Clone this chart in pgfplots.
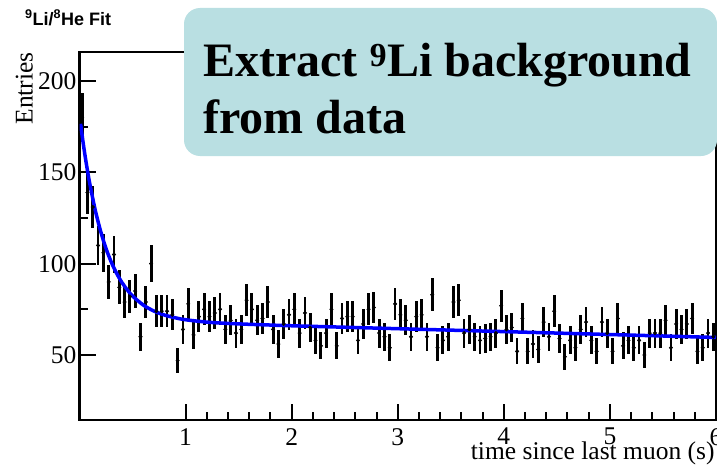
\documentclass[border=0pt]{standalone}
\usepackage{fontspec}
\setmainfont{Liberation Serif}
\newfontfamily\titlefont{Liberation Sans}
\usepackage{pgfplots}
\pgfplotsset{compat=1.18}
\usepackage{pgfplotstable}
\definecolor{boxteal}{RGB}{185,223,226}
\definecolor{rootblue}{RGB}{0,0,255}

\pgfplotstableread{
t n e
0.025 180 13.4
0.075 139 11.8
0.125 131 11.4
0.175 110 10.5
0.225 106 10.3
0.275 90 9.5
0.325 105 10.2
0.375 87 9.3
0.425 79 8.9
0.475 82 9.1
0.525 85 9.2
0.575 60 7.7
0.625 79 8.9
0.675 100 10.0
0.725 74 8.6
0.775 74 8.6
0.825 74 8.6
0.875 72 8.5
0.925 47 6.9
0.975 64 8.0
1.025 78 8.8
1.075 61 7.8
1.125 71 8.4
1.175 75 8.7
1.225 71 8.4
1.275 73 8.5
1.325 75 8.7
1.375 64 8.0
1.425 69 8.3
1.475 62 7.9
1.525 64 8.0
1.575 80 8.9
1.625 75 8.7
1.675 69 8.3
1.725 70 8.4
1.775 79 8.9
1.825 64 8.0
1.875 56 7.5
1.925 67 8.2
1.975 72 8.5
2.025 75 8.7
2.075 62 7.9
2.125 73 8.5
2.175 65 8.1
2.225 58 7.6
2.275 55 7.4
2.325 62 7.9
2.375 75 8.7
2.425 55 7.4
2.475 70 8.4
2.525 71 8.4
2.575 71 8.4
2.625 58 7.6
2.675 67 8.2
2.725 75 8.7
2.775 76 8.7
2.825 62 7.9
2.875 60 7.7
2.925 54 7.3
2.975 78 8.8
3.025 72 8.5
3.075 69 8.3
3.125 60 7.7
3.175 71 8.4
3.225 72 8.5
3.275 60 7.7
3.325 83 9.1
3.375 54 7.3
3.425 58 7.6
3.475 60 7.7
3.525 79 8.9
3.575 80 8.9
3.625 62 7.9
3.675 64 8.0
3.725 60 7.7
3.775 58 7.6
3.825 59 7.7
3.875 60 7.7
3.925 62 7.9
3.975 77 8.8
4.025 64 8.0
4.075 65 8.1
4.125 52 7.2
4.175 70 8.4
4.225 52 7.2
4.275 56 7.5
4.325 53 7.3
4.375 68 8.2
4.425 60 7.7
4.475 74 8.6
4.525 59 7.7
4.575 49 7.0
4.625 58 7.6
4.675 54 7.3
4.725 64 8.0
4.775 68 8.2
4.825 58 7.6
4.875 52 7.2
4.925 68 8.2
4.975 62 7.9
5.025 52 7.2
5.075 70 8.4
5.125 55 7.4
5.175 58 7.6
5.225 54 7.3
5.275 58 7.6
5.325 50 7.1
5.375 62 7.9
5.425 62 7.9
5.475 62 7.9
5.525 69 8.3
5.575 54 7.3
5.625 67 8.2
5.675 64 8.0
5.725 67 8.2
5.775 70 8.4
5.825 52 7.2
5.875 54 7.3
5.925 62 7.9
5.975 60 7.7
}\histdata

\pgfplotstableread{
t f
0.01 176.6
0.025 170.1
0.05 160.0
0.075 151.0
0.1 142.9
0.15 128.9
0.2 117.6
0.25 108.3
0.3 100.8
0.35 94.7
0.4 89.7
0.45 85.7
0.5 82.3
0.6 77.4
0.7 74.1
0.8 71.9
0.9 70.4
1.0 69.3
1.2 68.0
1.4 67.3
1.6 66.8
1.8 66.4
2.0 66.0
3.0 64.4
4.0 62.8
5.0 61.2
6.0 59.6
}\fitdata

\begin{document}
\begin{tikzpicture}[x=1pt,y=1pt]
\useasboundingbox (0,0) rectangle (717,467);
\begin{axis}[
  at={(79.5pt,47pt)}, anchor=south west,
  scale only axis, width=636.5pt, height=368pt,
  xmin=0, xmax=6, ymin=14.4, ymax=215.9,
  xtick={1,2,3,4,5,6}, ytick={50,100,150,200},
  minor x tick num=4, minor y tick num=1,
  tick align=inside, tick pos=left,
  major tick length=16pt, minor tick length=8pt,
  axis line style={line width=2.5pt},
  tick style={black, line width=2pt},
  /pgf/number format/assume math mode=true,
  xticklabel style={font=\fontsize{25.5}{25.5}\selectfont, anchor=north, inner sep=0pt, yshift=-8pt},
  yticklabel style={font=\fontsize{25.5}{25.5}\selectfont, anchor=east, inner sep=0pt, xshift=-3pt},
  xlabel={time since last muon (s)},
  xlabel style={font=\fontsize{25.5}{25.5}\selectfont, at={(axis description cs:0.998,-0.106)}, anchor=base east, inner sep=0pt},
  ylabel={Entries},
  ylabel style={font=\fontsize{25.5}{25.5}\selectfont, at={(axis description cs:-0.073,1)}, anchor=south east, inner sep=0pt},
  title={\titlefont\bfseries\textsuperscript{9}Li/\textsuperscript{8}He Fit},
  title style={font=\fontsize{18}{18}\selectfont, at={(axis description cs:-0.0856,1.057)}, anchor=base west, inner sep=0pt},
]
\addplot[only marks, black, mark=*, mark size=1.8pt,
  error bars/.cd, y dir=both, y explicit, error mark=none,
  error bar style={line width=2.8pt, black}]
  table[x=t, y=n, y error=e] {\histdata};
\addplot[rootblue, line width=3.5pt, smooth, no marks] table[x=t, y=f] {\fitdata};
\end{axis}
\fill[boxteal, rounded corners=16pt] (184,311) rectangle (717,459);
\node[anchor=base west, inner sep=0pt, font=\fontsize{48}{57}\selectfont\bfseries] at (203,391) {Extract \textsuperscript{9}Li background};
\node[anchor=base west, inner sep=0pt, font=\fontsize{48}{57}\selectfont\bfseries] at (203,333.4) {from data};
\end{tikzpicture}
\end{document}
